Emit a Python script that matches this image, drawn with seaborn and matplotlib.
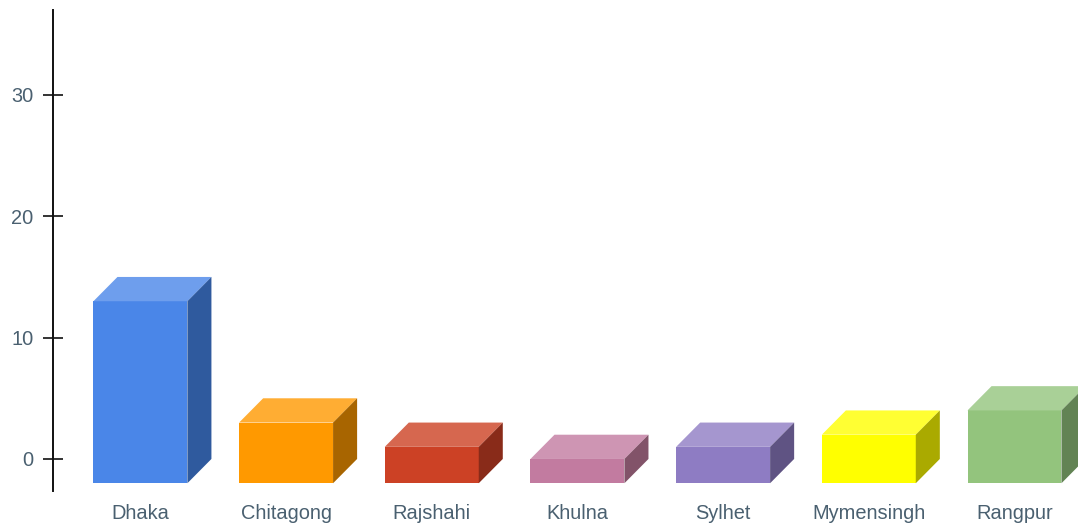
import matplotlib
matplotlib.use("Agg")
import matplotlib.pyplot as plt
from matplotlib.patches import Polygon
import seaborn as sns

cities = ["Dhaka", "Chitagong", "Rajshahi", "Khulna", "Sylhet", "Mymensingh", "Rangpur"]
counts = [13, 3, 1, 0, 1, 2, 4]
front_colors = ["#4a86e8", "#ff9900", "#cc4125", "#c27ba0", "#8e7cc3", "#ffff00", "#93c47d"]
top_colors = ["#6e9eed", "#ffad33", "#d6674f", "#ce95b3", "#a596cf", "#ffff33", "#a9d097"]
side_colors = ["#2f5a9e", "#a86500", "#892b19", "#825369", "#5f5383", "#aaaa00", "#628354"]
y_ticks = [0, 10, 20, 30]

FLOOR = -2.0       # the boxes stand on this value
DEPTH_Y = 2.0      # extrusion height in data units
BAR_WIDTH = 0.645
DEPTH_X = 0.165    # extrusion width in category units

sns.set_style("white")
plt.rcParams["font.family"] = ["Liberation Sans", "DejaVu Sans"]

fig = plt.figure(figsize=(10.78, 5.24), dpi=100)
ax = fig.add_axes([53 / 1078, (524 - 491) / 524, (1078 - 53) / 1078, (491 - 10) / 524])

sns.barplot(x=cities, y=counts, hue=cities, palette=front_colors, saturation=1,
            width=BAR_WIDTH, dodge=False, legend=False, linewidth=0, ax=ax)

# Extend each front face to the floor and extrude it into a box.
for patch, top_c, side_c in zip(ax.patches[:len(cities)], top_colors, side_colors):
    x0 = patch.get_x()
    x1 = x0 + patch.get_width()
    y1 = patch.get_y() + patch.get_height()
    patch.set_y(FLOOR)
    patch.set_height(y1 - FLOOR)
    ax.add_patch(Polygon([(x0, y1), (x1, y1), (x1 + DEPTH_X, y1 + DEPTH_Y), (x0 + DEPTH_X, y1 + DEPTH_Y)],
                         closed=True, facecolor=top_c, edgecolor="none"))
    ax.add_patch(Polygon([(x1, FLOOR), (x1 + DEPTH_X, FLOOR + DEPTH_Y), (x1 + DEPTH_X, y1 + DEPTH_Y), (x1, y1)],
                         closed=True, facecolor=side_c, edgecolor="none"))

ax.set_xlim(-0.6, 6.436)
ax.set_ylim(-2.64, 37)
ax.set_yticks(y_ticks)
ax.set_xlabel("")
ax.set_ylabel("")

sns.despine(ax=ax, top=True, right=True, bottom=True)
ax.spines["left"].set_color("#111111")
ax.spines["left"].set_linewidth(1.4)
ax.tick_params(axis="y", direction="inout", length=14.4, width=1.2, color="#111111",
               labelsize=14.4, labelcolor="#4a6070", pad=7, left=True)
ax.tick_params(axis="x", length=0, labelsize=14.4, labelcolor="#4a6070", pad=9.5)

fig.savefig("out.png", dpi=100, facecolor="white")
